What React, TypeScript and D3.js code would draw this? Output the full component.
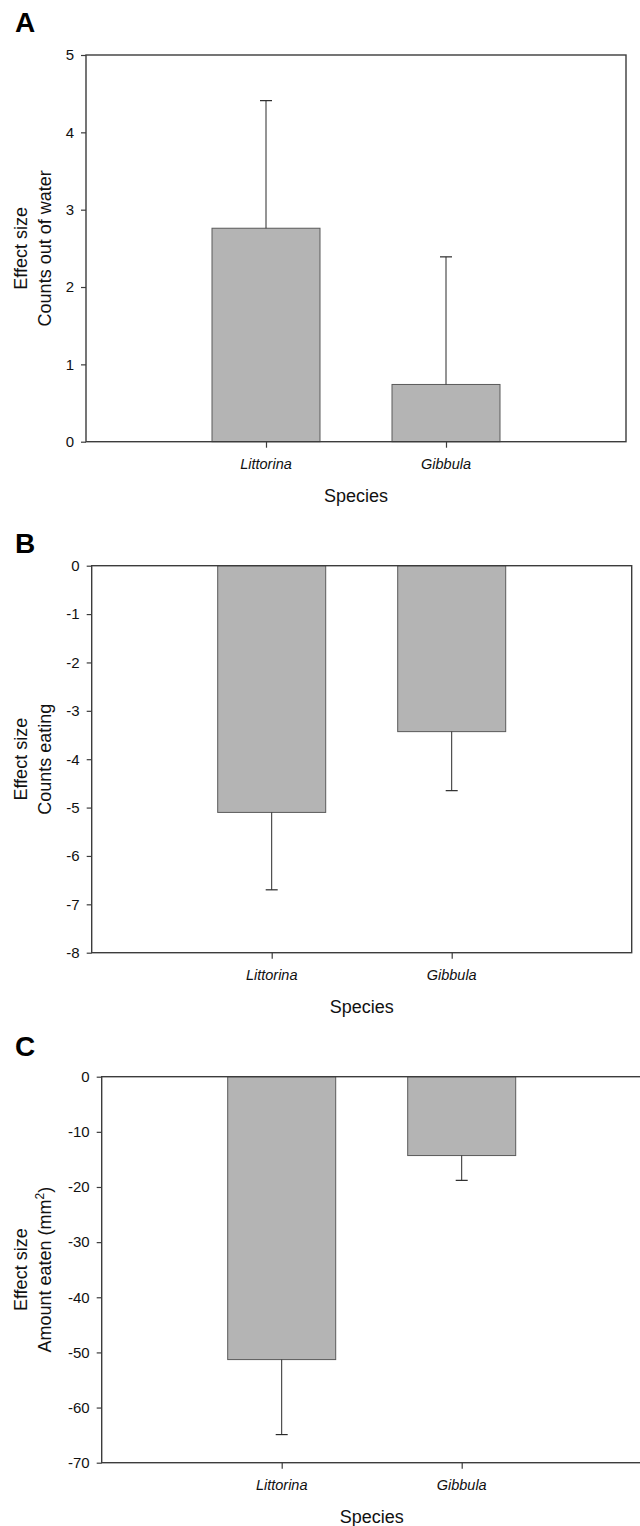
import { useEffect, useRef } from 'react';
import * as d3 from 'd3';

// species on the x axis
const species = ['Littorina', 'Gibbula'];

// A: counts out of water
const outOfWater = [2.76, 0.74];
const outOfWaterErr = [1.65, 1.65];
const outOfWaterTicks = [0, 1, 2, 3, 4, 5];

// B: counts eating
const countsEating = [-5.1, -3.43];
const countsEatingErr = [1.6, 1.22];
const countsEatingTicks = [0, -1, -2, -3, -4, -5, -6, -7, -8];

// C: amount eaten (mm2)
const amountEaten = [-51.3, -14.3];
const amountEatenErr = [13.6, 4.5];
const amountEatenTicks = [0, -10, -20, -30, -40, -50, -60, -70];

const FONT = '"Liberation Sans", Arial, Helvetica, sans-serif';
const W = 640;
const H = 1526;
const plotWidth = 540;

const App = () => {
    const svgRef = useRef(null);

    useEffect(() => {
        const svg = d3.select(svgRef.current);
        svg.selectAll('*').remove();

        const panels = [
            { letter: 'A', letterY: 32, left: 86, top: 55, bottom: 441.7, domain: [0, 5], ticks: outOfWaterTicks,
              values: outOfWater, errs: outOfWaterErr, title2: 'Counts out of water' },
            { letter: 'B', letterY: 552.5, left: 91.7, top: 565.7, bottom: 952.7, domain: [-8, 0], ticks: countsEatingTicks,
              values: countsEating, errs: countsEatingErr, title2: 'Counts eating' },
            { letter: 'C', letterY: 1056, left: 101.7, top: 1076.7, bottom: 1462.7, domain: [-70, 0], ticks: amountEatenTicks,
              values: amountEaten, errs: amountEatenErr, title2: 'Amount eaten (mm', sup: '2' },
        ];

        panels.forEach(p => {
            const g = svg.append('g').attr('font-family', FONT);
            const x = d3.scalePoint().domain(species).range([p.left, p.left + plotWidth]).padding(1);
            const y = d3.scaleLinear().domain(p.domain).range([p.bottom, p.top]);
            const barW = plotWidth * 0.2;

            g.append('text')
                .attr('x', 15).attr('y', p.letterY)
                .attr('font-size', 28).attr('font-weight', 'bold')
                .attr('fill', '#000')
                .text(p.letter);

            // bars
            species.forEach((s, i) => {
                const v = p.values[i];
                const y0 = y(0);
                const y1 = y(v);
                g.append('rect')
                    .attr('x', x(s) - barW / 2)
                    .attr('y', Math.min(y0, y1))
                    .attr('width', barW)
                    .attr('height', Math.abs(y1 - y0))
                    .attr('fill', '#b4b4b4')
                    .attr('stroke', '#5a5a5a')
                    .attr('stroke-width', 1);

                // error bar away from zero
                const end = v >= 0 ? v + p.errs[i] : v - p.errs[i];
                g.append('line')
                    .attr('x1', x(s)).attr('x2', x(s))
                    .attr('y1', y1).attr('y2', y(end))
                    .attr('stroke', '#2a2a2a').attr('stroke-width', 1);
                g.append('line')
                    .attr('x1', x(s) - 6).attr('x2', x(s) + 6)
                    .attr('y1', y(end)).attr('y2', y(end))
                    .attr('stroke', '#2a2a2a').attr('stroke-width', 1.2);
            });

            // frame
            g.append('rect')
                .attr('x', p.left).attr('y', p.top)
                .attr('width', plotWidth).attr('height', p.bottom - p.top)
                .attr('fill', 'none')
                .attr('stroke', '#3c3c3c').attr('stroke-width', 1.4);

            const yAxis = g.append('g')
                .attr('transform', `translate(${p.left},0)`)
                .call(d3.axisLeft(y).tickValues(p.ticks).tickSize(5).tickPadding(7).tickFormat(d => String(d)));
            yAxis.select('.domain').remove();
            yAxis.selectAll('line').attr('stroke', '#3c3c3c').attr('stroke-width', 1.2);
            yAxis.selectAll('text').attr('font-family', FONT).attr('font-size', 15).attr('fill', '#111');

            const xAxis = g.append('g')
                .attr('transform', `translate(0,${p.bottom})`)
                .call(d3.axisBottom(x).tickSize(6).tickFormat(() => ''));
            xAxis.select('.domain').remove();
            xAxis.selectAll('line').attr('stroke', '#3c3c3c').attr('stroke-width', 1.2);

            species.forEach(s => {
                g.append('text')
                    .attr('x', x(s)).attr('y', p.bottom + 27)
                    .attr('text-anchor', 'middle')
                    .attr('font-size', 14.5).attr('font-style', 'italic')
                    .attr('fill', '#111')
                    .text(s);
            });

            g.append('text')
                .attr('x', p.left + plotWidth / 2).attr('y', p.bottom + 60)
                .attr('text-anchor', 'middle')
                .attr('font-size', 18).attr('fill', '#111')
                .text('Species');

            const midY = (p.top + p.bottom) / 2;
            g.append('text')
                .attr('transform', `translate(27,${midY}) rotate(-90)`)
                .attr('text-anchor', 'middle')
                .attr('font-size', 18).attr('fill', '#111')
                .text('Effect size');
            const t2 = g.append('text')
                .attr('transform', `translate(51,${midY}) rotate(-90)`)
                .attr('text-anchor', 'middle')
                .attr('font-size', 18).attr('fill', '#111');
            t2.append('tspan').text(p.title2);
            if (p.sup) {
                t2.append('tspan').attr('font-size', 12).attr('dy', -7).text(p.sup);
                t2.append('tspan').attr('dy', 7).text(')');
            }
        });
    }, []);

    return (
        <svg ref={svgRef} width={W} height={H}
            style={{ position: 'absolute', left: 0, top: 0, background: '#fff' }}></svg>
    );
};

export default App;
